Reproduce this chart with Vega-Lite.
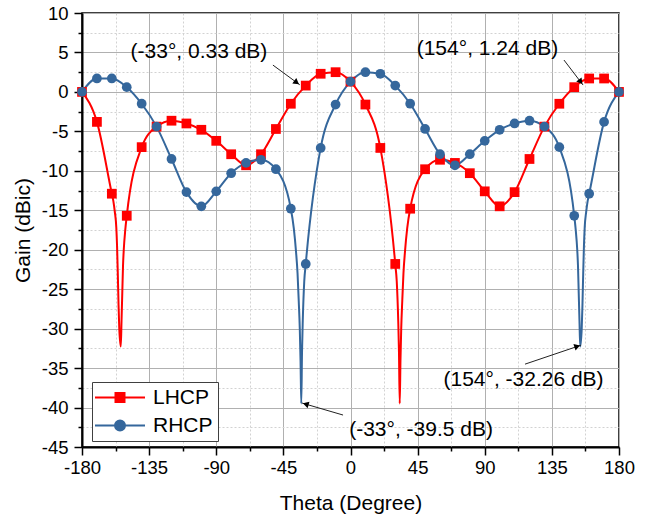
{
  "$schema": "https://vega.github.io/schema/vega-lite/v6.json",
  "width": 537,
  "height": 434,
  "autosize": "none",
  "padding": {"left": 82, "top": 13, "right": 32, "bottom": 74},
  "background": "white",
  "config": {
    "view": {"stroke": "black", "strokeWidth": 1.5},
    "font": "Liberation Sans",
    "axis": {
      "labelFont": "Liberation Sans",
      "labelColor": "black",
      "titleFont": "Liberation Sans",
      "titleFontSize": 21,
      "titleFontWeight": "normal",
      "titleColor": "black",
      "domainColor": "black",
      "domainWidth": 2,
      "tickColor": "black",
      "tickWidth": 1.5,
      "grid": true,
      "gridWidth": 1,
      "labelOverlap": false
    }
  },
  "datasets": {
    "curve": [
      {"theta": -180, "gain": 0, "pol": "LHCP"},
      {"theta": -170, "gain": -3.8, "pol": "LHCP"},
      {"theta": -160, "gain": -12.9, "pol": "LHCP"},
      {"theta": -159, "gain": -13.8, "pol": "LHCP"},
      {"theta": -158, "gain": -15.2, "pol": "LHCP"},
      {"theta": -157, "gain": -17.2, "pol": "LHCP"},
      {"theta": -156.5, "gain": -19.5, "pol": "LHCP"},
      {"theta": -156, "gain": -23, "pol": "LHCP"},
      {"theta": -155.5, "gain": -27, "pol": "LHCP"},
      {"theta": -155, "gain": -30, "pol": "LHCP"},
      {"theta": -154, "gain": -32.26, "pol": "LHCP"},
      {"theta": -153.5, "gain": -29, "pol": "LHCP"},
      {"theta": -153, "gain": -25.5, "pol": "LHCP"},
      {"theta": -152.5, "gain": -22, "pol": "LHCP"},
      {"theta": -152, "gain": -20, "pol": "LHCP"},
      {"theta": -151, "gain": -17.5, "pol": "LHCP"},
      {"theta": -150, "gain": -15.7, "pol": "LHCP"},
      {"theta": -140, "gain": -7.0, "pol": "LHCP"},
      {"theta": -130, "gain": -4.4, "pol": "LHCP"},
      {"theta": -120, "gain": -3.65, "pol": "LHCP"},
      {"theta": -110, "gain": -4.0, "pol": "LHCP"},
      {"theta": -100, "gain": -4.8, "pol": "LHCP"},
      {"theta": -90, "gain": -6.2, "pol": "LHCP"},
      {"theta": -80, "gain": -7.9, "pol": "LHCP"},
      {"theta": -70, "gain": -9.3, "pol": "LHCP"},
      {"theta": -60, "gain": -7.9, "pol": "LHCP"},
      {"theta": -50, "gain": -4.7, "pol": "LHCP"},
      {"theta": -40, "gain": -1.5, "pol": "LHCP"},
      {"theta": -30, "gain": 0.8, "pol": "LHCP"},
      {"theta": -20, "gain": 2.3, "pol": "LHCP"},
      {"theta": -10, "gain": 2.5, "pol": "LHCP"},
      {"theta": 0, "gain": 1.3, "pol": "LHCP"},
      {"theta": 10, "gain": -1.6, "pol": "LHCP"},
      {"theta": 20, "gain": -7.1, "pol": "LHCP"},
      {"theta": 30, "gain": -21.8, "pol": "LHCP"},
      {"theta": 31, "gain": -24, "pol": "LHCP"},
      {"theta": 32, "gain": -29, "pol": "LHCP"},
      {"theta": 32.5, "gain": -33, "pol": "LHCP"},
      {"theta": 33, "gain": -39.5, "pol": "LHCP"},
      {"theta": 33.5, "gain": -34, "pol": "LHCP"},
      {"theta": 34, "gain": -30, "pol": "LHCP"},
      {"theta": 34.7, "gain": -26.5, "pol": "LHCP"},
      {"theta": 35.5, "gain": -23, "pol": "LHCP"},
      {"theta": 36.5, "gain": -20.3, "pol": "LHCP"},
      {"theta": 38, "gain": -17.3, "pol": "LHCP"},
      {"theta": 40, "gain": -14.8, "pol": "LHCP"},
      {"theta": 50, "gain": -9.8, "pol": "LHCP"},
      {"theta": 60, "gain": -8.6, "pol": "LHCP"},
      {"theta": 70, "gain": -9.0, "pol": "LHCP"},
      {"theta": 80, "gain": -10.3, "pol": "LHCP"},
      {"theta": 90, "gain": -12.6, "pol": "LHCP"},
      {"theta": 100, "gain": -14.5, "pol": "LHCP"},
      {"theta": 110, "gain": -12.7, "pol": "LHCP"},
      {"theta": 120, "gain": -8.5, "pol": "LHCP"},
      {"theta": 130, "gain": -4.4, "pol": "LHCP"},
      {"theta": 140, "gain": -1.5, "pol": "LHCP"},
      {"theta": 150, "gain": 0.6, "pol": "LHCP"},
      {"theta": 160, "gain": 1.7, "pol": "LHCP"},
      {"theta": 170, "gain": 1.7, "pol": "LHCP"},
      {"theta": 180, "gain": 0, "pol": "LHCP"},
      {"theta": -180, "gain": 0, "pol": "RHCP"},
      {"theta": -170, "gain": 1.7, "pol": "RHCP"},
      {"theta": -160, "gain": 1.7, "pol": "RHCP"},
      {"theta": -150, "gain": 0.6, "pol": "RHCP"},
      {"theta": -140, "gain": -1.5, "pol": "RHCP"},
      {"theta": -130, "gain": -4.4, "pol": "RHCP"},
      {"theta": -120, "gain": -8.5, "pol": "RHCP"},
      {"theta": -110, "gain": -12.7, "pol": "RHCP"},
      {"theta": -100, "gain": -14.5, "pol": "RHCP"},
      {"theta": -90, "gain": -12.6, "pol": "RHCP"},
      {"theta": -80, "gain": -10.3, "pol": "RHCP"},
      {"theta": -70, "gain": -9.0, "pol": "RHCP"},
      {"theta": -60, "gain": -8.6, "pol": "RHCP"},
      {"theta": -50, "gain": -9.8, "pol": "RHCP"},
      {"theta": -40, "gain": -14.8, "pol": "RHCP"},
      {"theta": -38, "gain": -17.3, "pol": "RHCP"},
      {"theta": -36.5, "gain": -20.3, "pol": "RHCP"},
      {"theta": -35.5, "gain": -23, "pol": "RHCP"},
      {"theta": -34.7, "gain": -26.5, "pol": "RHCP"},
      {"theta": -34, "gain": -30, "pol": "RHCP"},
      {"theta": -33.5, "gain": -34, "pol": "RHCP"},
      {"theta": -33, "gain": -39.5, "pol": "RHCP"},
      {"theta": -32.5, "gain": -33, "pol": "RHCP"},
      {"theta": -32, "gain": -29, "pol": "RHCP"},
      {"theta": -31, "gain": -24, "pol": "RHCP"},
      {"theta": -30, "gain": -21.8, "pol": "RHCP"},
      {"theta": -20, "gain": -7.1, "pol": "RHCP"},
      {"theta": -10, "gain": -1.6, "pol": "RHCP"},
      {"theta": 0, "gain": 1.3, "pol": "RHCP"},
      {"theta": 10, "gain": 2.5, "pol": "RHCP"},
      {"theta": 20, "gain": 2.3, "pol": "RHCP"},
      {"theta": 30, "gain": 0.8, "pol": "RHCP"},
      {"theta": 40, "gain": -1.5, "pol": "RHCP"},
      {"theta": 50, "gain": -4.7, "pol": "RHCP"},
      {"theta": 60, "gain": -7.9, "pol": "RHCP"},
      {"theta": 70, "gain": -9.3, "pol": "RHCP"},
      {"theta": 80, "gain": -7.9, "pol": "RHCP"},
      {"theta": 90, "gain": -6.2, "pol": "RHCP"},
      {"theta": 100, "gain": -4.8, "pol": "RHCP"},
      {"theta": 110, "gain": -4.0, "pol": "RHCP"},
      {"theta": 120, "gain": -3.65, "pol": "RHCP"},
      {"theta": 130, "gain": -4.4, "pol": "RHCP"},
      {"theta": 140, "gain": -7.0, "pol": "RHCP"},
      {"theta": 150, "gain": -15.7, "pol": "RHCP"},
      {"theta": 151, "gain": -17.5, "pol": "RHCP"},
      {"theta": 152, "gain": -20, "pol": "RHCP"},
      {"theta": 152.5, "gain": -22, "pol": "RHCP"},
      {"theta": 153, "gain": -25.5, "pol": "RHCP"},
      {"theta": 153.5, "gain": -29, "pol": "RHCP"},
      {"theta": 154, "gain": -32.26, "pol": "RHCP"},
      {"theta": 155, "gain": -30, "pol": "RHCP"},
      {"theta": 155.5, "gain": -27, "pol": "RHCP"},
      {"theta": 156, "gain": -23, "pol": "RHCP"},
      {"theta": 156.5, "gain": -19.5, "pol": "RHCP"},
      {"theta": 157, "gain": -17.2, "pol": "RHCP"},
      {"theta": 158, "gain": -15.2, "pol": "RHCP"},
      {"theta": 159, "gain": -13.8, "pol": "RHCP"},
      {"theta": 160, "gain": -12.9, "pol": "RHCP"},
      {"theta": 170, "gain": -3.8, "pol": "RHCP"},
      {"theta": 180, "gain": 0, "pol": "RHCP"}
    ],
    "markers": [
      {"theta": -180, "gain": 0, "pol": "LHCP"},
      {"theta": -170, "gain": -3.8, "pol": "LHCP"},
      {"theta": -160, "gain": -12.9, "pol": "LHCP"},
      {"theta": -150, "gain": -15.7, "pol": "LHCP"},
      {"theta": -140, "gain": -7.0, "pol": "LHCP"},
      {"theta": -130, "gain": -4.4, "pol": "LHCP"},
      {"theta": -120, "gain": -3.65, "pol": "LHCP"},
      {"theta": -110, "gain": -4.0, "pol": "LHCP"},
      {"theta": -100, "gain": -4.8, "pol": "LHCP"},
      {"theta": -90, "gain": -6.2, "pol": "LHCP"},
      {"theta": -80, "gain": -7.9, "pol": "LHCP"},
      {"theta": -70, "gain": -9.3, "pol": "LHCP"},
      {"theta": -60, "gain": -7.9, "pol": "LHCP"},
      {"theta": -50, "gain": -4.7, "pol": "LHCP"},
      {"theta": -40, "gain": -1.5, "pol": "LHCP"},
      {"theta": -30, "gain": 0.8, "pol": "LHCP"},
      {"theta": -20, "gain": 2.3, "pol": "LHCP"},
      {"theta": -10, "gain": 2.5, "pol": "LHCP"},
      {"theta": 0, "gain": 1.3, "pol": "LHCP"},
      {"theta": 10, "gain": -1.6, "pol": "LHCP"},
      {"theta": 20, "gain": -7.1, "pol": "LHCP"},
      {"theta": 30, "gain": -21.8, "pol": "LHCP"},
      {"theta": 40, "gain": -14.8, "pol": "LHCP"},
      {"theta": 50, "gain": -9.8, "pol": "LHCP"},
      {"theta": 60, "gain": -8.6, "pol": "LHCP"},
      {"theta": 70, "gain": -9.0, "pol": "LHCP"},
      {"theta": 80, "gain": -10.3, "pol": "LHCP"},
      {"theta": 90, "gain": -12.6, "pol": "LHCP"},
      {"theta": 100, "gain": -14.5, "pol": "LHCP"},
      {"theta": 110, "gain": -12.7, "pol": "LHCP"},
      {"theta": 120, "gain": -8.5, "pol": "LHCP"},
      {"theta": 130, "gain": -4.4, "pol": "LHCP"},
      {"theta": 140, "gain": -1.5, "pol": "LHCP"},
      {"theta": 150, "gain": 0.6, "pol": "LHCP"},
      {"theta": 160, "gain": 1.7, "pol": "LHCP"},
      {"theta": 170, "gain": 1.7, "pol": "LHCP"},
      {"theta": 180, "gain": 0, "pol": "LHCP"},
      {"theta": -180, "gain": 0, "pol": "RHCP"},
      {"theta": -170, "gain": 1.7, "pol": "RHCP"},
      {"theta": -160, "gain": 1.7, "pol": "RHCP"},
      {"theta": -150, "gain": 0.6, "pol": "RHCP"},
      {"theta": -140, "gain": -1.5, "pol": "RHCP"},
      {"theta": -130, "gain": -4.4, "pol": "RHCP"},
      {"theta": -120, "gain": -8.5, "pol": "RHCP"},
      {"theta": -110, "gain": -12.7, "pol": "RHCP"},
      {"theta": -100, "gain": -14.5, "pol": "RHCP"},
      {"theta": -90, "gain": -12.6, "pol": "RHCP"},
      {"theta": -80, "gain": -10.3, "pol": "RHCP"},
      {"theta": -70, "gain": -9.0, "pol": "RHCP"},
      {"theta": -60, "gain": -8.6, "pol": "RHCP"},
      {"theta": -50, "gain": -9.8, "pol": "RHCP"},
      {"theta": -40, "gain": -14.8, "pol": "RHCP"},
      {"theta": -30, "gain": -21.8, "pol": "RHCP"},
      {"theta": -20, "gain": -7.1, "pol": "RHCP"},
      {"theta": -10, "gain": -1.6, "pol": "RHCP"},
      {"theta": 0, "gain": 1.3, "pol": "RHCP"},
      {"theta": 10, "gain": 2.5, "pol": "RHCP"},
      {"theta": 20, "gain": 2.3, "pol": "RHCP"},
      {"theta": 30, "gain": 0.8, "pol": "RHCP"},
      {"theta": 40, "gain": -1.5, "pol": "RHCP"},
      {"theta": 50, "gain": -4.7, "pol": "RHCP"},
      {"theta": 60, "gain": -7.9, "pol": "RHCP"},
      {"theta": 70, "gain": -9.3, "pol": "RHCP"},
      {"theta": 80, "gain": -7.9, "pol": "RHCP"},
      {"theta": 90, "gain": -6.2, "pol": "RHCP"},
      {"theta": 100, "gain": -4.8, "pol": "RHCP"},
      {"theta": 110, "gain": -4.0, "pol": "RHCP"},
      {"theta": 120, "gain": -3.65, "pol": "RHCP"},
      {"theta": 130, "gain": -4.4, "pol": "RHCP"},
      {"theta": 140, "gain": -7.0, "pol": "RHCP"},
      {"theta": 150, "gain": -15.7, "pol": "RHCP"},
      {"theta": 160, "gain": -12.9, "pol": "RHCP"},
      {"theta": 170, "gain": -3.8, "pol": "RHCP"},
      {"theta": 180, "gain": 0, "pol": "RHCP"}
    ],
    "arrows": [
      {"id": "a1", "theta": -52, "gain": 3.4, "theta2": -34, "gain2": 0.9},
      {"id": "a2", "theta": 143.1, "gain": 4.04, "theta2": 155.9, "gain2": 0.87},
      {"id": "a3", "theta": 117, "gain": -34.5, "theta2": 154.5, "gain2": -32.1},
      {"id": "a4", "theta": -5, "gain": -40.95, "theta2": -32.5, "gain2": -39.43}
    ],
    "heads": [
      {"id": "a1", "theta": -36.1, "gain": 1.2},
      {"id": "a2", "theta": 154.3, "gain": 1.28},
      {"id": "a3", "theta": 152.0, "gain": -32.24},
      {"id": "a4", "theta": -30.0, "gain": -39.57}
    ],
    "labels": [
      {"text": "(-33°, 0.33 dB)", "theta": -101.6, "gain": 5.06},
      {"text": "(154°, 1.24 dB)", "theta": 91.8, "gain": 5.44},
      {"text": "(154°, -32.26 dB)", "theta": 116, "gain": -36.5},
      {"text": "(-33°, -39.5 dB)", "theta": 47.3, "gain": -42.85}
    ]
  },
  "layer": [
    {
      "data": {"name": "curve"},
      "mark": {"type": "line", "interpolate": "monotone", "strokeWidth": 2},
      "encoding": {
        "x": {
          "field": "theta", "type": "quantitative",
          "scale": {"domain": [-180, 180], "nice": false, "zero": false},
          "title": "Theta (Degree)",
          "axis": {
            "values": [-180, -157.5, -135, -112.5, -90, -67.5, -45, -22.5, 0, 22.5, 45, 67.5, 90, 112.5, 135, 157.5, 180],
            "tickCount": 100,
            "labelExpr": "datum.value % 45 === 0 ? datum.value + '' : ''",
            "labelFontSize": {"condition": {"test": "datum.value % 45 !== 0", "value": 0}, "value": 18.5},
            "tickSize": {"condition": {"test": "datum.value % 45 !== 0", "value": 4}, "value": 8},
            "gridDash": {"condition": {"test": "datum.value % 45 !== 0", "value": [2, 2]}, "value": []},
            "gridColor": {"condition": {"test": "datum.value % 45 !== 0", "value": "#d2d2d2"}, "value": "#b0b0b0"},
            "labelPadding": 3,
            "titlePadding": 16,
            "labelFlush": false,
            "labelOverlap": false
          }
        },
        "y": {
          "field": "gain", "type": "quantitative",
          "scale": {"domain": [-45, 10], "nice": false, "zero": false},
          "title": "Gain (dBic)",
          "axis": {
            "values": [-45, -42.5, -40, -37.5, -35, -32.5, -30, -27.5, -25, -22.5, -20, -17.5, -15, -12.5, -10, -7.5, -5, -2.5, 0, 2.5, 5, 7.5, 10],
            "tickCount": 100,
            "labelExpr": "datum.value % 5 === 0 ? datum.value + '' : ''",
            "labelFontSize": {"condition": {"test": "datum.value % 5 !== 0", "value": 0}, "value": 18.5},
            "tickSize": {"condition": {"test": "datum.value % 5 !== 0", "value": 4}, "value": 8},
            "gridDash": {"condition": {"test": "datum.value % 5 !== 0", "value": [2, 2]}, "value": []},
            "gridColor": {"condition": {"test": "datum.value % 5 !== 0", "value": "#d2d2d2"}, "value": "#b0b0b0"},
            "labelPadding": 6,
            "titlePadding": 8,
            "labelFlush": false,
            "labelOverlap": false
          }
        },
        "color": {
          "field": "pol", "type": "nominal",
          "scale": {"domain": ["LHCP", "RHCP"], "range": ["#ff0000", "#35679c"]},
          "legend": {
            "orient": "none",
            "legendX": 10,
            "legendY": 369,
            "title": null,
            "direction": "vertical",
            "padding": 5,
            "strokeColor": "#404040",
            "fillColor": "white",
            "labelFont": "Liberation Sans",
            "labelFontSize": 21,
            "labelColor": "black",
            "symbolSize": 100,
            "symbolStrokeWidth": 2,
            "rowPadding": 6,
            "labelOffset": 35,
            "encode": {
              "symbols": {
                "update": {
                  "shape": {"signal": "datum.value === 'LHCP' ? 'M-5,0H5M-0.9,-0.9H0.9V0.9H-0.9Z' : 'M-5,0H5M1,0A1,1,0,1,1,-1,0A1,1,0,1,1,1,0Z'"},
                  "fill": {"signal": "scale('color', datum.value)"},
                  "stroke": {"signal": "scale('color', datum.value)"},
                  "strokeWidth": {"value": 2},
                  "opacity": {"value": 1},
                  "x": {"value": 23}
                }
              }
            }
          }
        },
        "detail": {"field": "pol"}
      }
    },
    {
      "data": {"name": "markers"},
      "transform": [{"filter": "datum.pol === 'LHCP'"}],
      "mark": {"type": "point", "shape": "square", "filled": true, "opacity": 1, "size": 95},
      "encoding": {
        "x": {"field": "theta", "type": "quantitative"},
        "y": {"field": "gain", "type": "quantitative"},
        "color": {"field": "pol", "type": "nominal", "scale": {"domain": ["LHCP", "RHCP"], "range": ["#ff0000", "#35679c"]}}
      }
    },
    {
      "data": {"name": "markers"},
      "transform": [{"filter": "datum.pol === 'RHCP'"}],
      "mark": {"type": "point", "shape": "circle", "filled": true, "opacity": 1, "size": 95},
      "encoding": {
        "x": {"field": "theta", "type": "quantitative"},
        "y": {"field": "gain", "type": "quantitative"},
        "color": {"field": "pol", "type": "nominal", "scale": {"domain": ["LHCP", "RHCP"], "range": ["#ff0000", "#35679c"]}}
      }
    },
    {
      "data": {"name": "arrows"},
      "mark": {"type": "rule", "color": "#222222", "strokeWidth": 1},
      "encoding": {
        "x": {"field": "theta", "type": "quantitative"},
        "y": {"field": "gain", "type": "quantitative"},
        "x2": {"field": "theta2"},
        "y2": {"field": "gain2"}
      }
    },
    {
      "data": {"name": "heads"},
      "transform": [{"filter": "datum.id === 'a1'"}],
      "mark": {"type": "point", "shape": "triangle-up", "filled": true, "color": "black", "opacity": 1, "size": 45, "angle": 126.5},
      "encoding": {"x": {"field": "theta", "type": "quantitative"}, "y": {"field": "gain", "type": "quantitative"}}
    },
    {
      "data": {"name": "heads"},
      "transform": [{"filter": "datum.id === 'a2'"}],
      "mark": {"type": "point", "shape": "triangle-up", "filled": true, "color": "black", "opacity": 1, "size": 45, "angle": 142.8},
      "encoding": {"x": {"field": "theta", "type": "quantitative"}, "y": {"field": "gain", "type": "quantitative"}}
    },
    {
      "data": {"name": "heads"},
      "transform": [{"filter": "datum.id === 'a3'"}],
      "mark": {"type": "point", "shape": "triangle-up", "filled": true, "color": "black", "opacity": 1, "size": 45, "angle": 71.3},
      "encoding": {"x": {"field": "theta", "type": "quantitative"}, "y": {"field": "gain", "type": "quantitative"}}
    },
    {
      "data": {"name": "heads"},
      "transform": [{"filter": "datum.id === 'a4'"}],
      "mark": {"type": "point", "shape": "triangle-up", "filled": true, "color": "black", "opacity": 1, "size": 45, "angle": 286.3},
      "encoding": {"x": {"field": "theta", "type": "quantitative"}, "y": {"field": "gain", "type": "quantitative"}}
    },
    {
      "data": {"name": "labels"},
      "mark": {"type": "text", "font": "Liberation Sans", "fontSize": 21, "color": "black", "align": "center", "baseline": "middle"},
      "encoding": {
        "x": {"field": "theta", "type": "quantitative"},
        "y": {"field": "gain", "type": "quantitative"},
        "text": {"field": "text"}
      }
    }
  ]
}
